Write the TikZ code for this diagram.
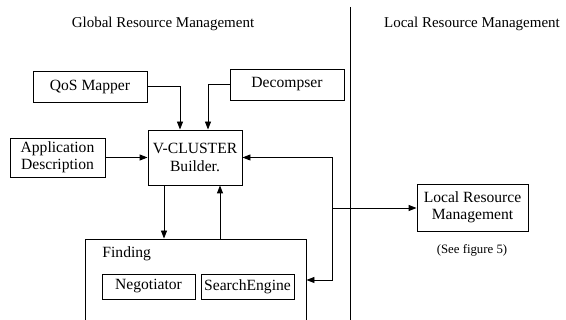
\documentclass[tikz,border=0pt]{standalone}
\usepackage{fontspec}
\setmainfont{Liberation Serif}
\usetikzlibrary{arrows.meta}
\begin{document}
\begin{tikzpicture}[x=1pt,y=-1pt,
  box/.style={draw,line width=0.9pt,inner sep=0pt,align=center,font=\fontsize{15.6}{17.5}\selectfont},
  lbl/.style={inner sep=0pt,font=\fontsize{15}{17}\selectfont},
  conn/.style={line width=0.9pt,-{Triangle[length=8pt,width=6pt]}},
  line/.style={line width=0.9pt}]
\useasboundingbox (0,0) rectangle (566,320);
% divider
\coordinate (dtop) at (350,7);
\coordinate (dbot) at (350,320);
\draw[line] (dtop) -- (dbot);
% headers
\node[lbl] (hg) at (163,24) {Global Resource Management};
\node[lbl] (hl) at (472,24) {Local Resource Management};
% boxes
\node[box,minimum width=114pt,minimum height=31pt] (qos) at (90,86.5) {QoS Mapper};
\node[box,minimum width=114pt,minimum height=31pt] (dec) at (287,84.5) {Decompser};
\node[box,minimum width=94pt,minimum height=55pt] (vc) at (195,157.5) {V-CLUSTER\\Builder.};
\node[box,minimum width=95pt,minimum height=39pt] (app) at (57.5,157.5) {Application\\Description};
\node[box,minimum width=111pt,minimum height=47pt] (lrm) at (472.5,207.5) {Local Resource\\Management};
\node[inner sep=0pt,font=\fontsize{12.8}{14}\selectfont] (see) at (472,250) {(See figure 5)};
% finding box (bottom edge outside picture)
\node[draw,line width=0.9pt,minimum width=221pt,minimum height=90pt,inner sep=0pt] (find) at (195.5,284) {};
\node[box,draw=none,anchor=west] (findl) at (102,254) {Finding};
\node[box,minimum width=93pt,minimum height=25pt] (neg) at (148.5,286.5) {Negotiator};
\node[box,minimum width=93pt,minimum height=25pt] (se) at (247.5,286.5) {SearchEngine};
% connectors
\draw[conn] (qos.east) -| (vc.north -| 180,0);
\draw[conn] (dec.west) -| (vc.north -| 208,0);
\draw[conn] (app.east) -- (vc.west |- app.east);
\coordinate (rj1) at (332,157.5);
\coordinate (rj2) at (332,280);
\coordinate (rj3) at (332,208);
\draw[conn] (rj1) -- (vc.east);
\draw[conn] (rj1) -- (rj2) -- (find.east |- rj2);
\draw[conn] (rj3) -- (lrm.west |- rj3);
\draw[conn] (vc.south -| 164,0) -- (find.north -| 164,0);
\draw[conn] (find.north -| 220,0) -- (vc.south -| 220,0);
\end{tikzpicture}
\end{document}
